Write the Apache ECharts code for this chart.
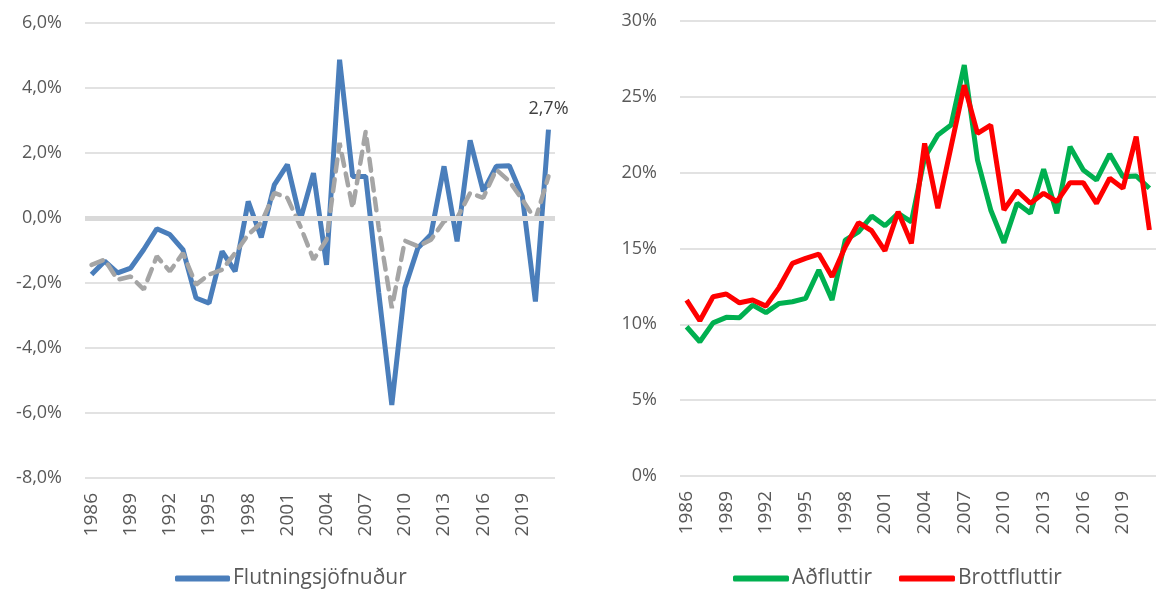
<!DOCTYPE html>
<html>
<head>
<meta charset="utf-8">
<script src="https://cdn.jsdelivr.net/npm/echarts@6/dist/echarts.min.js"></script>
<style>
  html, body { margin: 0; padding: 0; background: #fff; }
  #main { width: 1156px; height: 592px; }
</style>
</head>
<body>
<div id="main"></div>
<script>
var years = [];
for (var y = 1986; y <= 2021; y++) years.push(String(y));

// vinstra graf: flutningsjöfnuður (%)
var netMigration = [-1.74, -1.33, -1.69, -1.54, -0.97, -0.33, -0.51, -0.97, -2.46, -2.62,
  -1.03, -1.64, 0.51, -0.6, 1.02, 1.64, -0.05, 1.38, -1.44, 4.87,
  1.28, 1.28, -2.3, -5.75, -2.15, -0.92, -0.51, 1.59, -0.72, 2.39,
  0.82, 1.59, 1.61, 0.66, -2.57, 2.72];
var netMigrationGrey = [-1.44, -1.28, -1.9, -1.8, -2.2, -1.18, -1.64, -1.08, -2.05, -1.74,
  -1.59, -1.08, -0.51, -0.15, 0.77, 0.62, -0.26, -1.28, -0.67, 2.31,
  0.31, 2.66, -0.3, -2.77, -0.7, -0.87, -0.67, -0.1, 0.0, 0.77,
  0.62, 1.49, 1.13, 0.56, -0.05, 1.28];

// hægra graf: aðfluttir og brottfluttir (%)
var inMigration = [9.84, 8.85, 10.1, 10.46, 10.44, 11.27, 10.77, 11.38, 11.49, 11.71,
  13.58, 11.6, 15.56, 16.1, 17.14, 16.5, 17.32, 16.76, 21.0, 22.48,
  23.14, 27.1, 20.83, 17.54, 15.38, 17.98, 17.32, 20.22, 17.32, 21.71,
  20.17, 19.51, 21.23, 19.73, 19.78, 18.97];
var outMigration = [11.6, 10.24, 11.82, 12.0, 11.42, 11.6, 11.2, 12.44, 14.02, 14.35,
  14.63, 13.14, 15.12, 16.7, 16.17, 14.85, 17.42, 15.34, 21.93, 17.65,
  21.71, 25.77, 22.59, 23.14, 17.54, 18.81, 17.98, 18.64, 18.09, 19.34,
  19.34, 17.98, 19.63, 18.97, 22.37, 16.22];

var font = '"Open Sans", "Noto Sans", sans-serif';
var txt = '#595959';

var chart = echarts.init(document.getElementById('main'));

function xAxisFor(idx) {
    return {
        type: 'category',
        gridIndex: idx,
        data: years,
        boundaryGap: true,
        axisLine: { show: false },
        axisTick: { show: false },
        axisLabel: {
            interval: 2,
            rotate: 90,
            margin: 15,
            color: txt,
            fontSize: 19,
            fontFamily: font
        }
    };
}

// aðeins síðasta gildið fær merkingu (2,7%)
var lastIdx = netMigration.length - 1;
var blueData = netMigration.map(function (v, i) {
    if (i === lastIdx) {
        return { value: v, label: { show: true } };
    }
    return v;
});

option = {
    animation: false,
    backgroundColor: '#fff',
    grid: [
        { left: 85, top: 23, width: 470, height: 455 },
        { left: 680, top: 21, width: 483, height: 455 }
    ],
    xAxis: [xAxisFor(0), xAxisFor(1)],
    yAxis: [{
        type: 'value',
        gridIndex: 0,
        min: -8,
        max: 6,
        interval: 2,
        axisLine: { show: false },
        axisTick: { show: false },
        splitLine: { lineStyle: { color: '#d9d9d9', width: 1.5 } },
        axisLabel: {
            margin: 23,
            color: txt,
            fontSize: 18,
            fontFamily: font,
            formatter: function (v) { return v.toFixed(1).replace('.', ',') + '%'; }
        }
    }, {
        type: 'value',
        gridIndex: 1,
        min: 0,
        max: 30,
        interval: 5,
        axisLine: { show: false },
        axisTick: { show: false },
        splitLine: { lineStyle: { color: '#d9d9d9', width: 1.5 } },
        axisLabel: {
            margin: 23,
            color: txt,
            fontSize: 18,
            fontFamily: font,
            formatter: '{value}%'
        }
    }],
    legend: [{
        data: ['Flutningsjöfnuður'],
        left: 175,
        top: 568,
        padding: 0,
        itemWidth: 55,
        itemHeight: 6,
        textStyle: { color: txt, fontSize: 21, fontFamily: font, padding: [0, 0, 0, -2] },
        icon: 'roundRect'
    }, {
        data: ['Aðfluttir', 'Brottfluttir'],
        left: 733,
        top: 568,
        padding: 0,
        itemWidth: 56,
        itemHeight: 6,
        itemGap: 27,
        textStyle: { color: txt, fontSize: 21, fontFamily: font, padding: [0, 0, 0, -2] },
        icon: 'roundRect'
    }],
    series: [{
        name: 'zero',
        type: 'line',
        xAxisIndex: 0,
        yAxisIndex: 0,
        data: [],
        z: 1,
        silent: true,
        markLine: {
            silent: true,
            symbol: 'none',
            label: { show: false },
            lineStyle: { color: '#d9d9d9', width: 5, type: 'solid' },
            data: [{ yAxis: 0 }]
        }
    }, {
        name: 'Flutningsjöfnuður',
        type: 'line',
        xAxisIndex: 0,
        yAxisIndex: 0,
        data: blueData,
        symbol: 'circle',
        symbolSize: 0,
        showSymbol: true,
        showAllSymbol: true,
        z: 2,
        itemStyle: { color: '#4a7ebb' },
        lineStyle: { color: '#4a7ebb', width: 5 },
        label: {
            show: false,
            position: 'top',
            distance: 12,
            formatter: function (p) { return p.value.toFixed(1).replace('.', ',') + '%'; },
            color: '#404040',
            fontSize: 18,
            fontFamily: font
        }
    }, {
        name: 'Meðaltal',
        type: 'line',
        xAxisIndex: 0,
        yAxisIndex: 0,
        data: netMigrationGrey,
        symbol: 'none',
        z: 3,
        itemStyle: { color: '#a5a5a5' },
        lineStyle: { color: '#a5a5a5', width: 4.5, type: [12, 8], cap: 'round' }
    }, {
        name: 'Aðfluttir',
        type: 'line',
        xAxisIndex: 1,
        yAxisIndex: 1,
        data: inMigration,
        symbol: 'none',
        itemStyle: { color: '#00b050' },
        lineStyle: { color: '#00b050', width: 5 }
    }, {
        name: 'Brottfluttir',
        type: 'line',
        xAxisIndex: 1,
        yAxisIndex: 1,
        data: outMigration,
        symbol: 'none',
        itemStyle: { color: '#ff0000' },
        lineStyle: { color: '#ff0000', width: 5 }
    }]
};

chart.setOption(option);
</script>
</body>
</html>
